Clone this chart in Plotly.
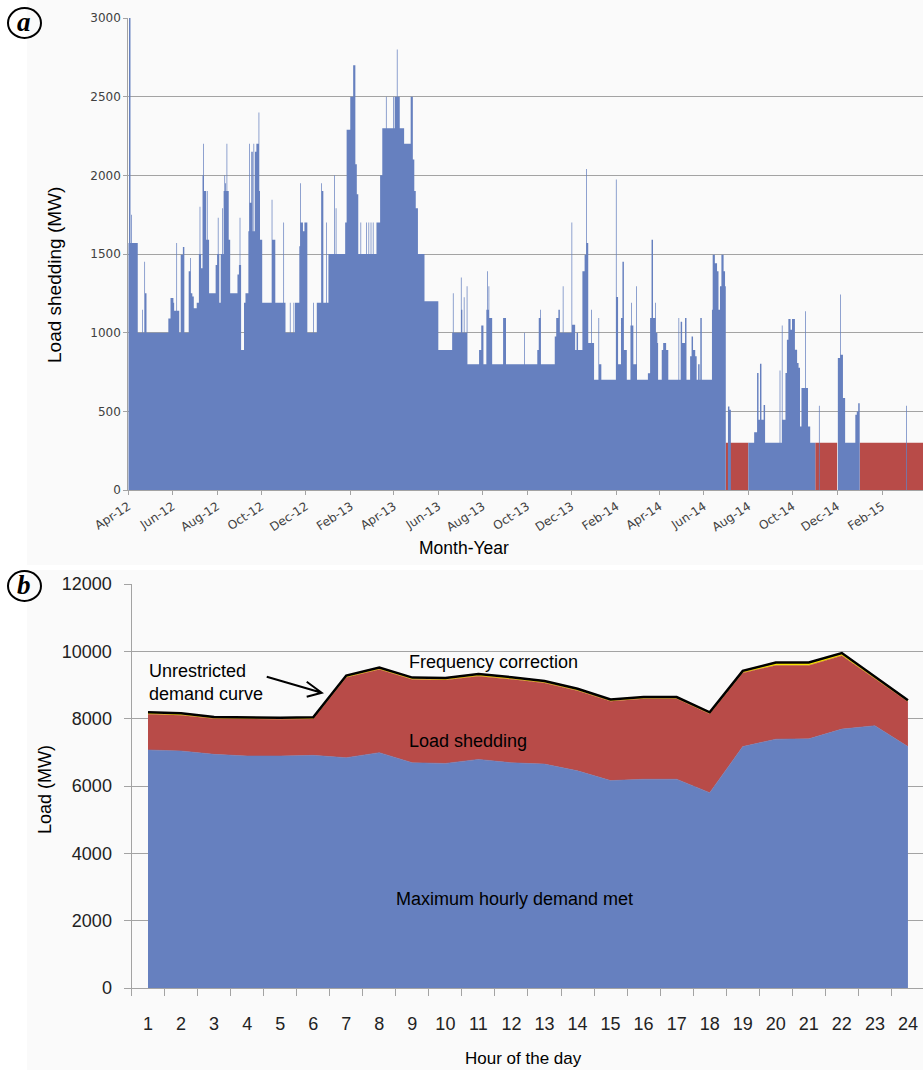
import pandas as pd
import plotly.graph_objects as go

W, H = 923, 1070

# ---------------- (a) daily load shedding, Apr 2012 - Mar 2015 ----------------
START = pd.Timestamp("2012-04-01")
# change points: day offset from START and the level (MW) held from that day on
shed_day = [
    0, 1, 3, 4, 5, 13, 19, 20, 22, 23, 25, 55, 58, 62, 63, 66, 67, 70, 72, 75,
    77, 83, 85, 86, 88, 90, 94, 97, 98, 99, 100, 102, 103, 104, 107, 108, 109, 111, 120, 122,
    123, 124, 125, 127, 129, 130, 131, 132, 133, 134, 135, 136, 138, 140, 150, 152, 153, 154, 155, 159,
    161, 165, 166, 167, 169, 171, 172, 173, 174, 176, 179, 180, 181, 184, 197, 198, 202, 213, 214, 216,
    222, 223, 227, 228, 229, 235, 236, 237, 240, 242, 246, 254, 255, 259, 265, 266, 268, 272, 273, 275,
    283, 284, 285, 286, 298, 300, 305, 309, 312, 314, 316, 319, 320, 327, 328, 330, 331, 333, 334, 336,
    337, 341, 346, 349, 354, 355, 364, 365, 366, 369, 370, 373, 379, 388, 391, 393, 395, 398, 407, 426,
    445, 446, 447, 457, 458, 459, 461, 462, 465, 466, 482, 485, 488, 492, 493, 494, 495, 496, 500, 515,
    519, 544, 545, 562, 564, 566, 567, 586, 588, 591, 593, 597, 598, 609, 610, 614, 616, 618, 624, 627,
    629, 630, 632, 636, 637, 640, 646, 647, 650, 670, 671, 673, 677, 679, 681, 685, 690, 691, 692, 694,
    698, 699, 714, 717, 719, 721, 724, 725, 727, 728, 733, 735, 739, 742, 756, 757, 759, 761, 765, 767,
    772, 774, 776, 779, 781, 783, 785, 786, 788, 802, 803, 806, 809, 811, 813, 815, 818, 820, 821, 824,
    826, 828, 852, 860, 864, 866, 868, 870, 873, 875, 895, 896, 898, 899, 903, 905, 907, 910, 912, 916,
    919, 921, 923, 925, 930, 931, 934, 937, 944, 949, 950, 975, 978, 979, 982, 985, 999, 1001, 1003, 1005,
    1069, 1070, 1095,
]
shed_mw = [
    1570, 3000, 1570, 1750, 1570, 1000, 1145, 1000, 1450, 1250, 1000, 1090, 1220, 1190, 1140, 1570, 1140, 1000, 1495, 1545,
    1000, 1390, 1475, 1250, 1230, 1155, 1190, 1500, 1800, 1500, 1410, 2000, 2200, 1900, 1590, 1900, 1590, 1250, 1430, 1500,
    1730, 1500, 1190, 1500, 1790, 1500, 1900, 2000, 1950, 1900, 2200, 1900, 1590, 1250, 1370, 1430, 1730, 1430, 890, 1190,
    1250, 1645, 2200, 1825, 2150, 1645, 2200, 1645, 2150, 2200, 2400, 1900, 1590, 1190, 1845, 1590, 1190, 1700, 1190, 1000,
    1190, 1000, 1190, 1000, 1190, 1550, 1950, 1700, 1645, 1700, 1000, 1190, 1000, 1190, 1950, 1900, 1190, 1700, 1190, 1500,
    2000, 1500, 1790, 1500, 1700, 2290, 2500, 2700, 2070, 1880, 1500, 1700, 1500, 1700, 1500, 1700, 1500, 1700, 1500, 1700,
    1500, 1700, 2000, 2300, 2500, 2300, 2500, 2300, 2500, 2800, 2500, 2300, 2200, 2500, 2100, 1900, 1790, 1500, 1200, 890,
    1000, 1250, 1000, 1350, 1145, 1000, 1225, 1000, 1295, 800, 890, 1045, 800, 1145, 1390, 1145, 1295, 1093, 800, 1093,
    800, 1000, 800, 890, 1093, 1145, 800, 976, 1093, 1145, 1000, 1295, 1000, 1700, 1050, 890, 1000, 890, 1390, 1495,
    2040, 1570, 935, 1145, 935, 700, 1093, 800, 700, 1973, 1226, 800, 1093, 1450, 890, 700, 1045, 1190, 1045, 800,
    1295, 700, 742, 1093, 1590, 1093, 1190, 1000, 935, 700, 890, 935, 890, 700, 1093, 700, 1070, 935, 1093, 700,
    850, 976, 890, 850, 700, 800, 700, 1093, 700, 1145, 1495, 1442, 1390, 1145, 1295, 1495, 1390, 1295, 0, 530,
    510, 0, 300, 367, 743, 446, 802, 446, 541, 300, 760, 300, 1045, 446, 743, 955, 1087, 1019, 1087, 892,
    807, 777, 403, 648, 1136, 648, 403, 300, 0, 535, 0, 839, 1242, 860, 584, 300, 478, 499, 552, 0,
    535, 0, 0,
]
# months shown with a flat 300 MW estimate
red_start = ["2014-07-01", "2014-11-01", "2015-01-01"]
red_end = ["2014-08-01", "2014-12-01", "2015-04-01"]
red_level = 300

# ---------------- (b) hourly profile ----------------
hours = list(range(1, 25))
demand_met = [7070, 7040, 6940, 6890, 6890, 6910, 6840, 6990, 6690, 6670, 6790, 6690,
              6650, 6450, 6160, 6200, 6200, 5800, 7170, 7390, 7400, 7690, 7790, 7170]
load_shedding = [1060, 1060, 1060, 1090, 1090, 1080, 2380, 2470, 2470, 2480, 2470, 2480,
                 2410, 2380, 2360, 2390, 2390, 2340, 2190, 2190, 2180, 2180, 1400, 1330]
freq_correction = [60, 60, 50, 50, 50, 50, 60, 60, 60, 60, 70, 60,
                   60, 60, 50, 50, 50, 50, 60, 90, 90, 80, 60, 50]
unrestricted = [a + b + c for a, b, c in zip(demand_met, load_shedding, freq_correction)]

BLUE = "#6680BF"
RED = "#B84B48"
YELLOW = "#F7E600"
GRID = "#A3A3A3"
FONT = "Liberation Sans, Arial, sans-serif"
SMALL = "DejaVu Sans, Verdana, sans-serif"


def fx(px):
    return px / W


def fy(py):
    return 1 - py / H


fig = go.Figure()

# red monthly blocks (step area)
rx, ry = [], []
for s, e in zip(red_start, red_end):
    rx += [s, e]
    ry += [red_level, 0]
fig.add_trace(go.Scatter(x=rx, y=ry, mode="lines", line=dict(shape="hv", width=0),
                         fill="tozeroy", fillcolor=RED, xaxis="x", yaxis="y",
                         hoverinfo="skip", showlegend=False))

shed_dates = [START + pd.Timedelta(days=d) for d in shed_day]
fig.add_trace(go.Scatter(x=shed_dates, y=shed_mw, mode="lines",
                         line=dict(shape="hv", width=0),
                         fill="tozeroy", fillcolor=BLUE, xaxis="x", yaxis="y",
                         showlegend=False))

# stacked hourly areas
for vals, col in [(demand_met, BLUE), (load_shedding, RED), (freq_correction, YELLOW)]:
    fig.add_trace(go.Scatter(x=hours, y=vals, mode="lines", stackgroup="b",
                             line=dict(width=0.6, color=col), fillcolor=col,
                             xaxis="x2", yaxis="y2", showlegend=False))
fig.add_trace(go.Scatter(x=hours, y=unrestricted, mode="lines",
                         line=dict(color="black", width=2.5),
                         xaxis="x2", yaxis="y2", showlegend=False))

fig.update_layout(
    width=W, height=H,
    margin=dict(l=0, r=0, t=0, b=0),
    paper_bgcolor="white",
    plot_bgcolor="rgba(0,0,0,0)",
    xaxis=dict(
        domain=[fx(128.3), 1], anchor="y", type="date", automargin=False,
        range=["2012-04-01", "2015-03-29"],
        tick0="2012-04-01", dtick="M2", tickformat="%b-%y",
        tickangle=-33, ticks="outside", ticklen=4, tickcolor=GRID,
        showline=True, linecolor=GRID, linewidth=1, showgrid=False,
        tickfont=dict(family=SMALL, size=12, color="#404040"),
    ),
    yaxis=dict(
        domain=[fy(490), fy(18)], anchor="x", range=[0, 3000], dtick=500, automargin=False,
        showgrid=True, gridcolor=GRID, gridwidth=1, zeroline=False,
        showline=True, linecolor=GRID, ticks="outside", ticklen=4, tickcolor=GRID,
        tickfont=dict(family=SMALL, size=12, color="#404040"),
    ),
    xaxis2=dict(
        domain=[fx(131.5), 1], anchor="y2", range=[0.5, 0.5 + (W - 131.5) / 33.04],
        automargin=False,
        tickmode="array", tickvals=hours, ticks="", ticklabelstandoff=19,
        showline=True, linecolor=GRID, linewidth=1, showgrid=False, zeroline=False,
        tickfont=dict(family=FONT, size=18, color="#222222"),
        minor=dict(tickmode="array", tickvals=[h - 0.5 for h in hours] + [24.5],
                   ticks="outside", ticklen=7, tickcolor=GRID, showgrid=False),
    ),
    yaxis2=dict(
        domain=[fy(988), fy(584)], anchor="x2", range=[0, 12000], dtick=2000,
        automargin=False, tickformat="d",
        showgrid=True, gridcolor=GRID, gridwidth=1, zeroline=False,
        showline=True, linecolor=GRID, ticks="outside", ticklen=7, tickcolor=GRID,
        ticklabelstandoff=8,
        tickfont=dict(family=FONT, size=18, color="#222222"),
    ),
)

ann = []
# axis titles
ann.append(dict(text="Load shedding (MW)", x=fx(55), y=fy(275), textangle=-90,
                font=dict(family=FONT, size=19, color="black")))
ann.append(dict(text="Month-Year", x=fx(464), y=fy(548),
                font=dict(family=FONT, size=17.5, color="black")))
ann.append(dict(text="Load (MW)", x=fx(45), y=fy(790), textangle=-90,
                font=dict(family=FONT, size=18, color="black")))
ann.append(dict(text="Hour of the day", x=fx(523), y=fy(1058),
                font=dict(family=FONT, size=17, color="black")))
for a in ann:
    a.update(xref="paper", yref="paper", showarrow=False, xanchor="center", yanchor="middle")

# labels inside panel (b)
inner = [
    dict(text="Frequency correction", x=11.47, y=9683, xanchor="center"),
    dict(text="Load shedding", x=10.69, y=7336, xanchor="center"),
    dict(text="Maximum hourly demand met", x=12.08, y=2643, xanchor="center"),
    dict(text="Unrestricted<br>demand curve", x=0.97, y=9088, xanchor="left", align="left"),
]
for a in inner:
    a.update(xref="x2", yref="y2", showarrow=False, yanchor="middle",
             font=dict(family=FONT, size=18, color="black"))
    ann.append(a)

# panel letters
for letter, cy in [("a", 23), ("b", 586)]:
    ann.append(dict(text="<b><i>%s</i></b>" % letter, x=fx(24), y=fy(cy - 1),
                    xref="paper", yref="paper", showarrow=False,
                    xanchor="center", yanchor="middle",
                    font=dict(family="Liberation Serif, DejaVu Serif, serif", size=27, color="black")))
fig.update_layout(annotations=ann)

shapes = [
    # light chart backgrounds
    dict(type="rect", xref="paper", yref="paper", x0=fx(27), x1=1, y0=fy(565), y1=1,
         fillcolor="#FAFAFA", line=dict(width=0), layer="below"),
    dict(type="rect", xref="paper", yref="paper", x0=fx(27), x1=1, y0=0, y1=fy(570),
         fillcolor="#FAFAFA", line=dict(width=0), layer="below"),
    # arrow pointing at the unrestricted demand curve
    dict(type="path", xref="x2", yref="y2",
         path="M 4.593 9246 L 6.257 8770 M 5.803 9097 L 6.257 8770 L 5.803 8652",
         line=dict(color="black", width=2)),
]
for cy in (23, 586):
    shapes.append(dict(type="circle", xref="paper", yref="paper",
                       x0=fx(8), x1=fx(41), y0=fy(cy + 15), y1=fy(cy - 15),
                       line=dict(color="black", width=2), fillcolor="rgba(0,0,0,0)"))
fig.update_layout(shapes=shapes)

fig.write_html("out.html")
